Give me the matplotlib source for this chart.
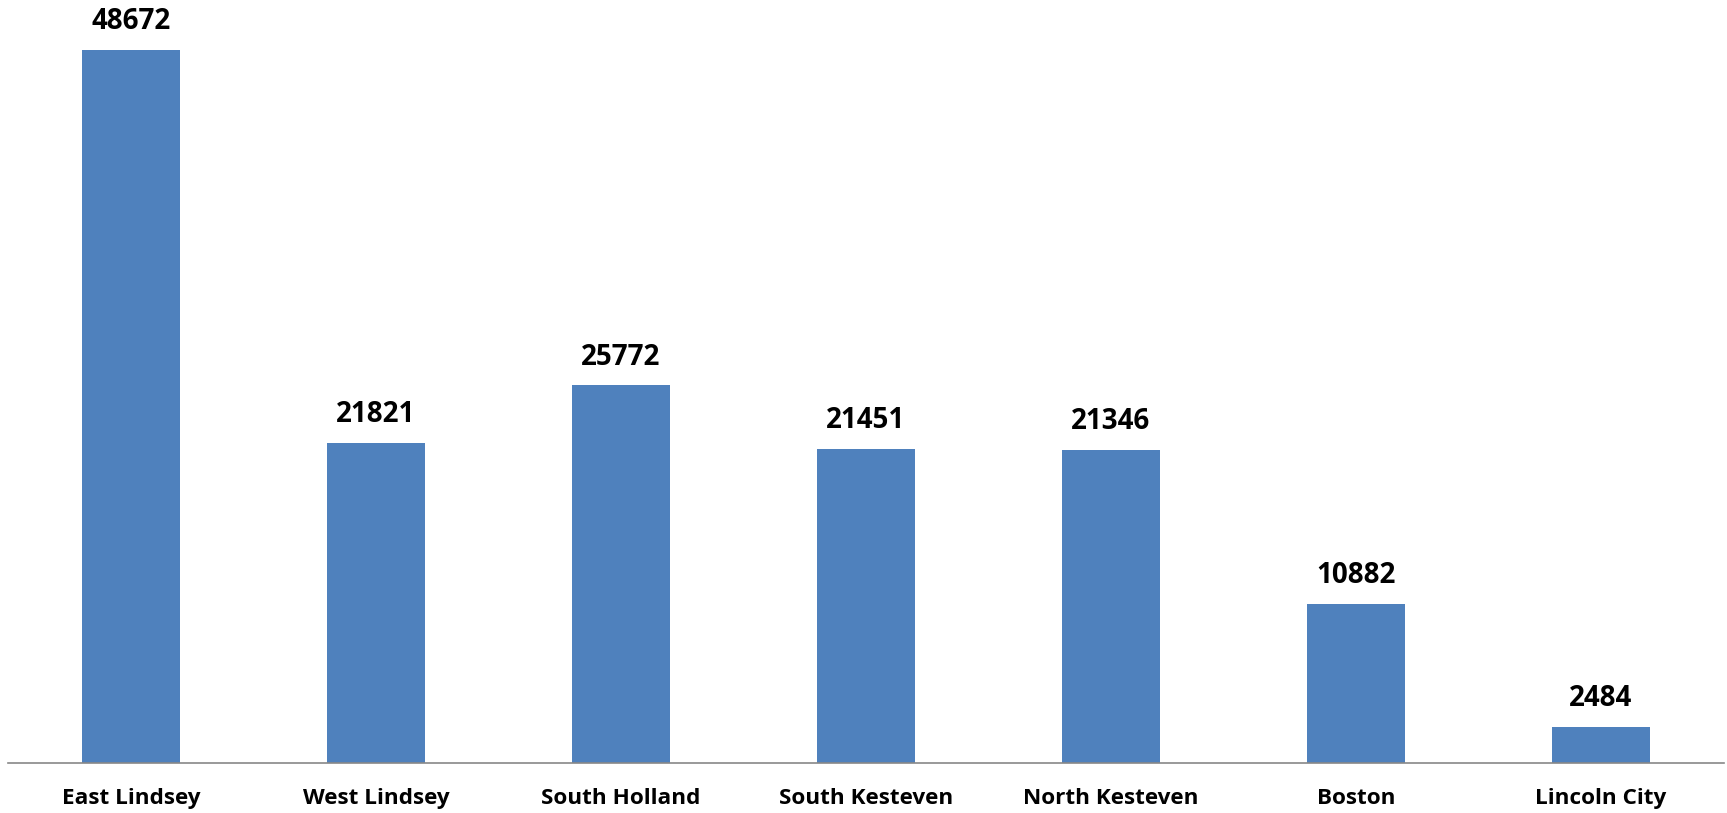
import matplotlib
matplotlib.use("Agg")
import matplotlib.pyplot as plt

categories = ["East Lindsey", "West Lindsey", "South Holland", "South Kesteven",
              "North Kesteven", "Boston", "Lincoln City"]
values = [48672, 21821, 25772, 21451, 21346, 10882, 2484]

W, H = 1727, 813
fig = plt.figure(figsize=(W / 100, H / 100), dpi=100)
ax = fig.add_axes([8.5 / W, 50 / H, 1715 / W, 763 / H])

x = list(range(len(categories)))
bars = ax.bar(x, values, width=0.4, color="#4F81BD", zorder=2)
ax.set_xlim(-0.5, len(categories) - 0.5)
ax.set_ylim(0, 52085)

for xi, v in zip(x, values):
    ax.annotate(f"{v}", (xi, v), xytext=(0, 10), textcoords="offset points",
                ha="center", va="bottom", fontsize=20, fontweight="bold",
                family="Open Sans", color="black")

ax.set_xticks(x)
ax.set_xticklabels(categories, fontsize=16.2, fontweight="bold", family="Open Sans")
ax.tick_params(axis="x", length=0, pad=18)
ax.set_yticks([])
for s in ["top", "right", "left"]:
    ax.spines[s].set_visible(False)
ax.spines["bottom"].set_color("#888888")
ax.spines["bottom"].set_linewidth(1.2)

fig.savefig("out.png", dpi=100)
